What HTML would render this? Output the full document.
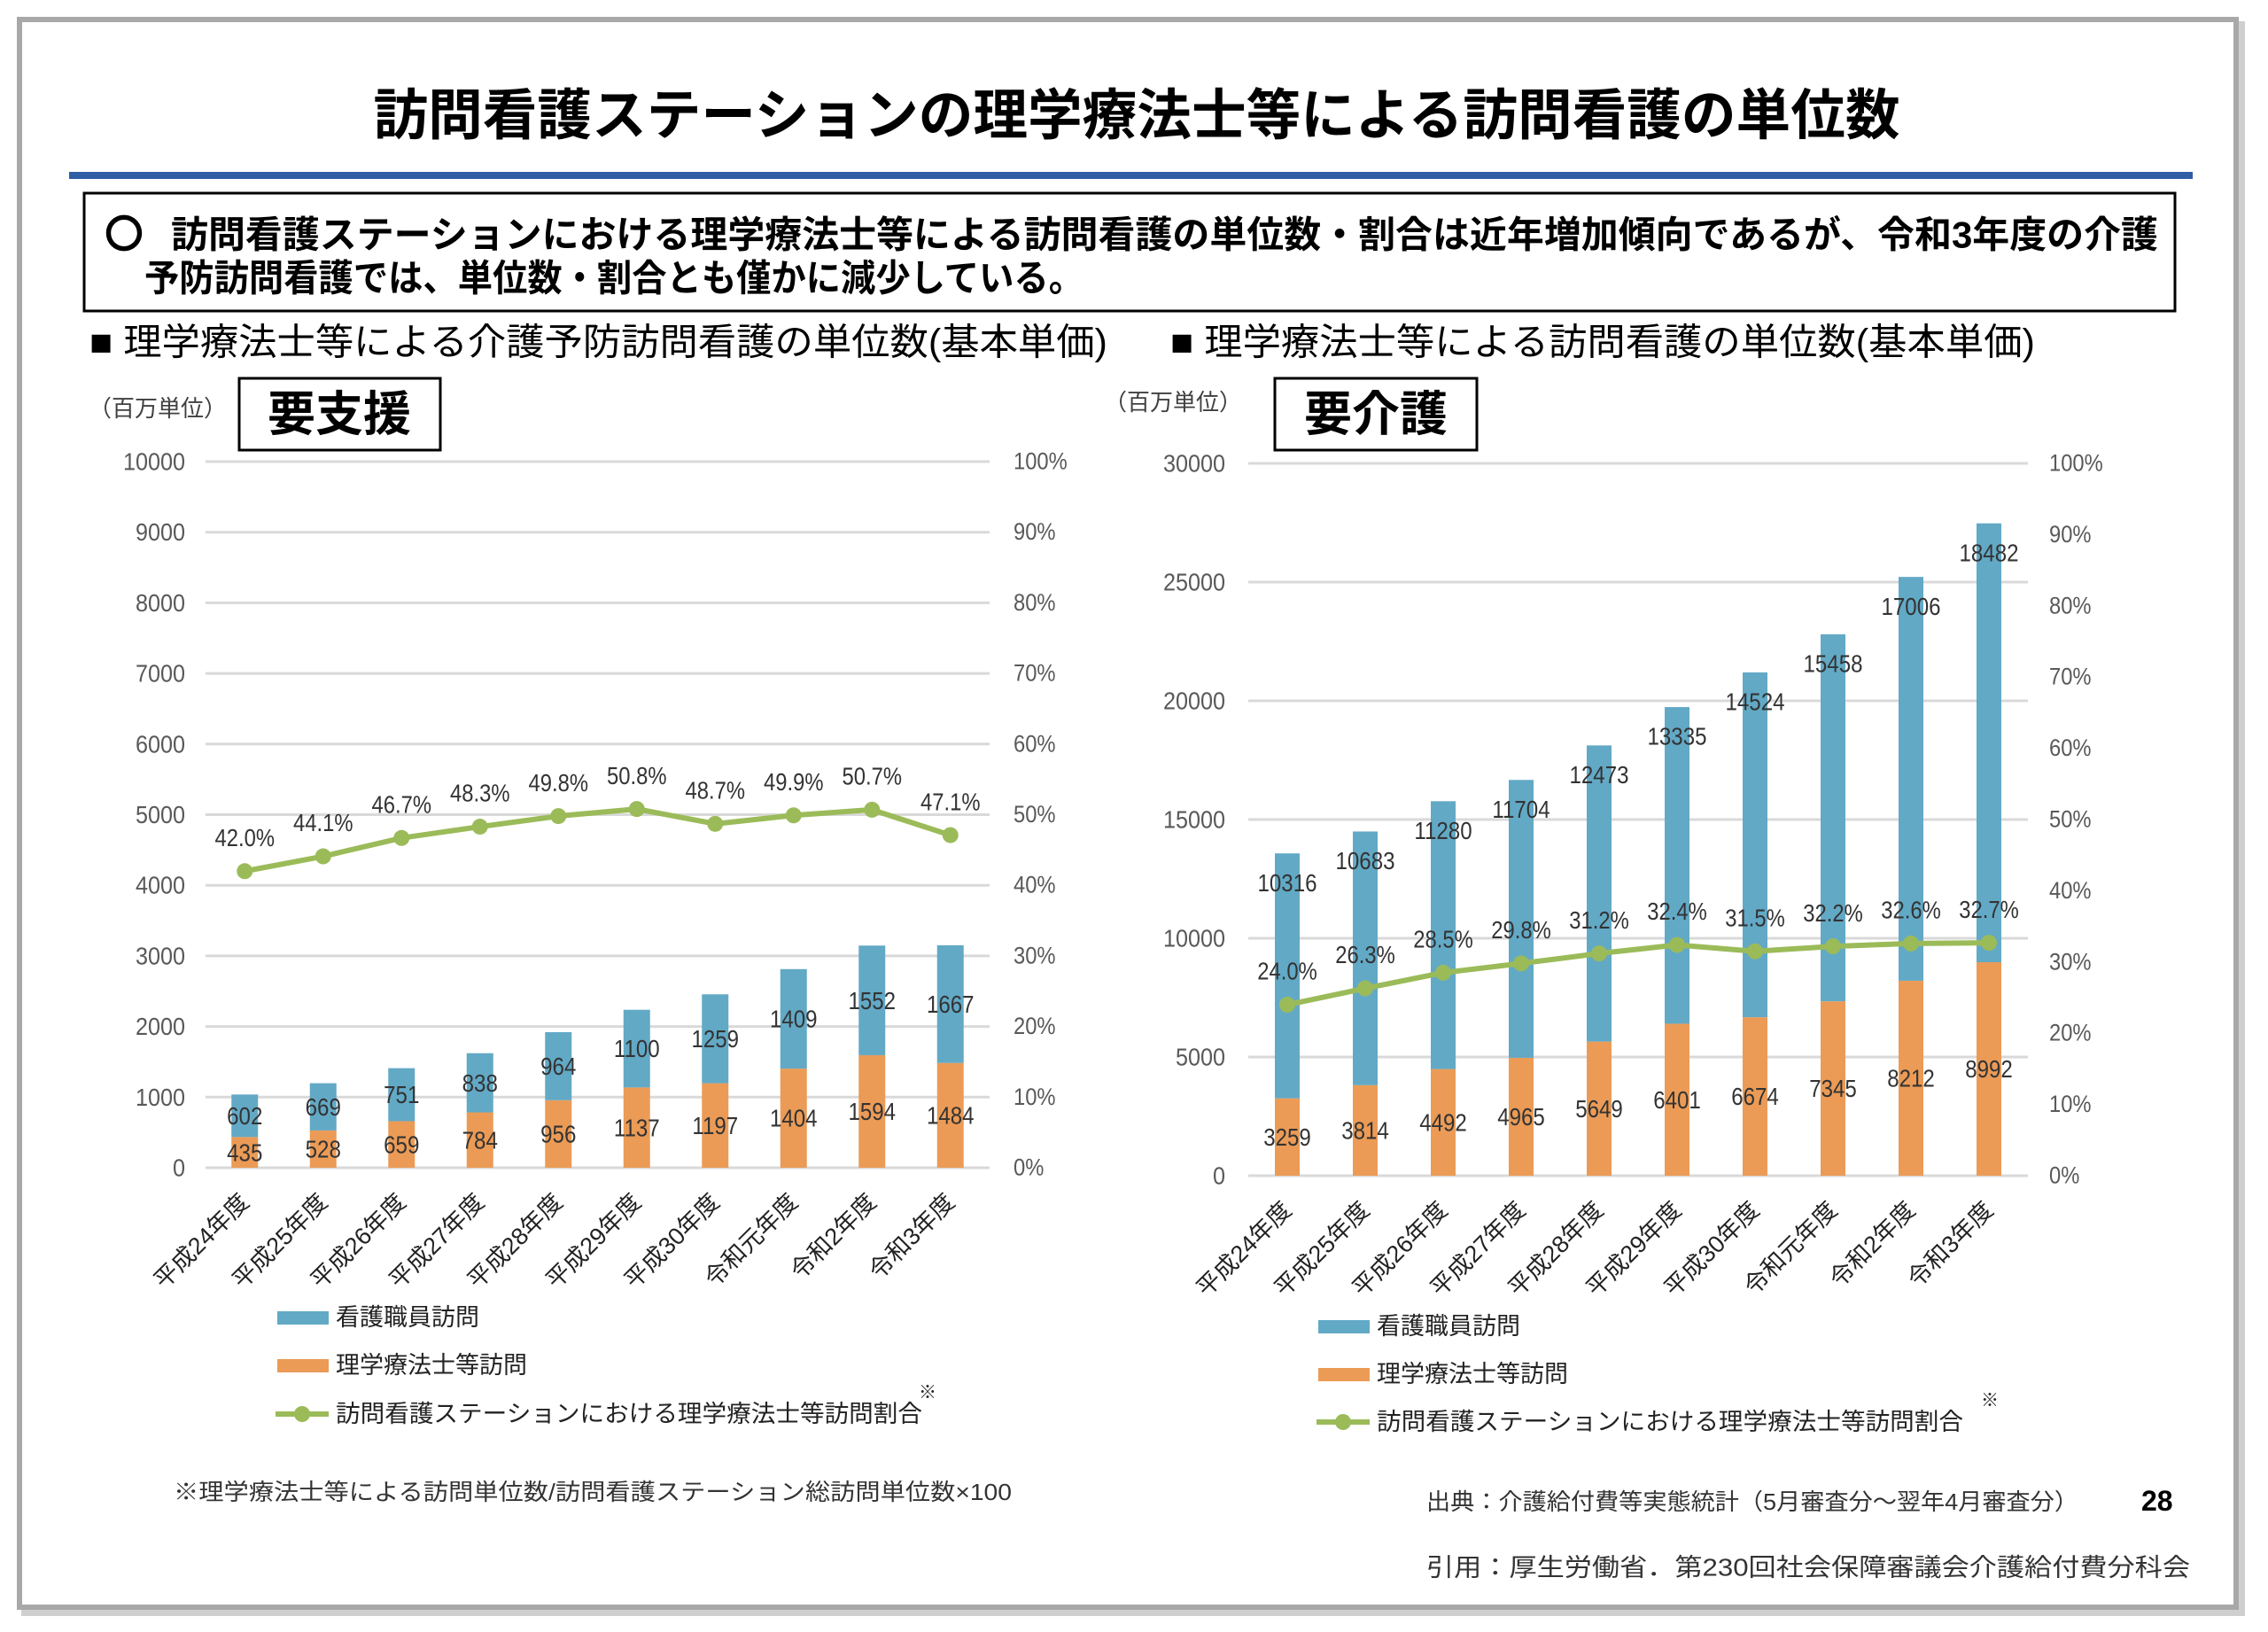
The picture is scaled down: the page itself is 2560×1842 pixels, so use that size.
<!DOCTYPE html>
<html><head><meta charset="utf-8">
<style>
html,body{margin:0;padding:0;background:#fff;}
svg{display:block;font-family:"Liberation Sans","Noto Sans CJK JP",sans-serif;}
</style></head>
<body>
<svg id="s" width="2560" height="1842" viewBox="0 0 2560 1842" xmlns="http://www.w3.org/2000/svg">
<rect width="2560" height="1842" fill="#fff"/>
<rect x="28" y="28" width="2502" height="1792" fill="none" stroke="#cfcfcf" stroke-width="8"/>
<rect x="22" y="22" width="2502" height="1792" fill="#fff" stroke="#a8a8a8" stroke-width="6"/>
<text x="1283" y="131" font-size="62" font-weight="bold" text-anchor="middle" dominant-baseline="central" textLength="1723" lengthAdjust="spacingAndGlyphs" fill="#000">訪問看護ステーションの理学療法士等による訪問看護の単位数</text>
<rect x="78" y="194" width="2397" height="8" fill="#2f5ea6"/>
<rect x="95" y="218" width="2360" height="133" fill="none" stroke="#000" stroke-width="3"/>
<text x="118" y="265" font-size="44" font-weight="bold" dominant-baseline="central">〇</text>
<text x="193" y="265" font-size="42" font-weight="bold" dominant-baseline="central" textLength="2243" lengthAdjust="spacingAndGlyphs">訪問看護ステーションにおける理学療法士等による訪問看護の単位数・割合は近年増加傾向であるが、令和3年度の介護</text>
<text x="163" y="314" font-size="42" font-weight="bold" dominant-baseline="central" textLength="1060" lengthAdjust="spacingAndGlyphs">予防訪問看護では、単位数・割合とも僅かに減少している。</text>
<text x="101" y="386" font-size="42" dominant-baseline="central" textLength="1149" lengthAdjust="spacingAndGlyphs">■ 理学療法士等による介護予防訪問看護の単位数(基本単価)</text>
<text x="1321" y="386" font-size="42" dominant-baseline="central" textLength="976" lengthAdjust="spacingAndGlyphs">■ 理学療法士等による訪問看護の単位数(基本単価)</text>
<text x="100" y="461" font-size="26" fill="#404040" dominant-baseline="central">（百万単位）</text>
<text x="1246" y="454" font-size="26" fill="#404040" dominant-baseline="central">（百万単位）</text>
<rect x="270" y="427" width="227" height="81" fill="#fff" stroke="#000" stroke-width="3"/>
<text x="383" y="468" font-size="54" font-weight="bold" text-anchor="middle" dominant-baseline="central">要支援</text>
<rect x="1439" y="427" width="228" height="81" fill="#fff" stroke="#000" stroke-width="3"/>
<text x="1553" y="468" font-size="54" font-weight="bold" text-anchor="middle" dominant-baseline="central">要介護</text>
<g id="charts"></g>
<text x="196" y="1684" font-size="26" fill="#333" dominant-baseline="central" textLength="946" lengthAdjust="spacingAndGlyphs">※理学療法士等による訪問単位数/訪問看護ステーション総訪問単位数×100</text>
<text x="1610" y="1695" font-size="26" fill="#333" dominant-baseline="central" textLength="736" lengthAdjust="spacingAndGlyphs">出典：介護給付費等実態統計（5月審査分～翌年4月審査分）</text>
<text x="2417" y="1694" font-size="32" font-weight="bold" dominant-baseline="central">28</text>
<text x="1610" y="1769" font-size="28" fill="#333" dominant-baseline="central" textLength="862" lengthAdjust="spacingAndGlyphs">引用：厚生労働省．第230回社会保障審議会介護給付費分科会</text>
</svg>
<script>
(function(){
var g=document.getElementById('charts');var h='';
var BL='#62a9c6',OR='#eb9b56',GR='#9bbb59',TX='#333';
var cats=['平成24年度','平成25年度','平成26年度','平成27年度','平成28年度','平成29年度','平成30年度','令和元年度','令和2年度','令和3年度'];
function t(x,y,s,fs,anchor,sx,col){
  return '<text transform="translate('+x+','+y+') scale('+sx+',1)" font-size="'+fs+'" fill="'+(col||TX)+'" text-anchor="'+anchor+'" dominant-baseline="central">'+s+'</text>';
}
function chart(o){
  var x0=o.x0,x1=o.x1,y0=o.y0,ytop=o.ytop,max=o.max,step=o.step;
  var H=y0-ytop,bw=(x1-x0)/10;
  function Y(v){return y0-v/max*H;}
  function P(p){return y0-p/100*H;}
  for(var v=0;v<=max;v+=step){
    var y=Y(v);
    h+='<line x1="'+x0+'" y1="'+y+'" x2="'+x1+'" y2="'+y+'" stroke="#d9d9d9" stroke-width="3"/>';
    h+=t(o.lx,y,v,28,'end',0.9,'#595959');
  }
  for(var p=0;p<=100;p+=10){h+=t(o.rx,P(p),p+'%',27,'start',0.88,'#595959');}
  var pts=[];
  for(var i=0;i<10;i++){
    var xc=x0+bw*(i+0.5),a=o.or[i],b=o.bl[i];
    h+='<rect x="'+(xc-o.w/2)+'" y="'+Y(a)+'" width="'+o.w+'" height="'+(y0-Y(a))+'" fill="'+OR+'"/>';
    h+='<rect x="'+(xc-o.w/2)+'" y="'+Y(a+b)+'" width="'+o.w+'" height="'+(Y(a)-Y(a+b))+'" fill="'+BL+'"/>';
    h+=t(xc,Y(a/2),a,28,'middle',0.86);
    var by=o.inside?Y(a+b)+33:Y(a+b/2);
    h+=t(xc,by,b,28,'middle',0.86);
    pts.push([xc,P(o.pc[i])]);
    h+='<text transform="translate('+xc+','+(y0+34)+') rotate(-45)" font-size="27" fill="#222" text-anchor="end" dominant-baseline="central">'+cats[i]+'</text>';
  }
  h+='<polyline points="'+pts.map(function(q){return q.join(',')}).join(' ')+'" fill="none" stroke="'+GR+'" stroke-width="6" stroke-linejoin="round"/>';
  for(var i=0;i<10;i++){
    h+='<circle cx="'+pts[i][0]+'" cy="'+pts[i][1]+'" r="9" fill="'+GR+'"/>';
    h+=t(pts[i][0],pts[i][1]-38,o.pc[i].toFixed(1)+'%',28,'middle',0.85);
  }
  var lx=o.legx,ly=o.legy;
  h+='<rect x="'+lx+'" y="'+(ly-7)+'" width="58" height="15" fill="'+BL+'"/>';
  h+='<text x="'+(lx+66)+'" y="'+ly+'" font-size="27" fill="#222" dominant-baseline="central">看護職員訪問</text>';
  h+='<rect x="'+lx+'" y="'+(ly+54-7)+'" width="58" height="15" fill="'+OR+'"/>';
  h+='<text x="'+(lx+66)+'" y="'+(ly+54)+'" font-size="27" fill="#222" dominant-baseline="central">理学療法士等訪問</text>';
  var l3=ly+o.l3;
  h+='<line x1="'+(lx-2)+'" y1="'+l3+'" x2="'+(lx+58)+'" y2="'+l3+'" stroke="'+GR+'" stroke-width="6"/>';
  h+='<circle cx="'+(lx+28)+'" cy="'+l3+'" r="9" fill="'+GR+'"/>';
  h+='<text x="'+(lx+66)+'" y="'+l3+'" font-size="27" fill="#222" dominant-baseline="central" textLength="662" lengthAdjust="spacingAndGlyphs">訪問看護ステーションにおける理学療法士等訪問割合</text>';
  h+='<text x="'+(lx+o.astx)+'" y="'+(l3-24)+'" font-size="20" fill="#222" dominant-baseline="central">※</text>';
}
chart({x0:232,x1:1117,y0:1318,ytop:521,max:10000,step:1000,lx:209,rx:1144,w:30,inside:false,
 or:[435,528,659,784,956,1137,1197,1404,1594,1484],
 bl:[602,669,751,838,964,1100,1259,1409,1552,1667],
 pc:[42.0,44.1,46.7,48.3,49.8,50.8,48.7,49.9,50.7,47.1],
 legx:313,legy:1487,l3:109,astx:724});
chart({x0:1409,x1:2289,y0:1327,ytop:523,max:30000,step:5000,lx:1383,rx:2313,w:28,inside:true,
 or:[3259,3814,4492,4965,5649,6401,6674,7345,8212,8992],
 bl:[10316,10683,11280,11704,12473,13335,14524,15458,17006,18482],
 pc:[24.0,26.3,28.5,29.8,31.2,32.4,31.5,32.2,32.6,32.7],
 legx:1488,legy:1497,l3:108,astx:748});
g.innerHTML=h;
})();
</script>
</body></html>
